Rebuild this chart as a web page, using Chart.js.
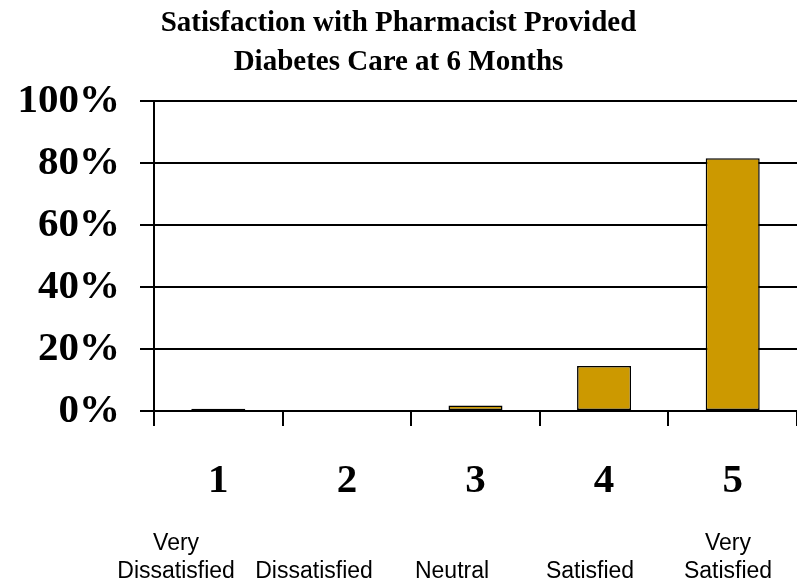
<!DOCTYPE html>
<html>
<head>
<meta charset="utf-8">
<script src="https://cdn.jsdelivr.net/npm/chart.js@4/dist/chart.umd.min.js"></script>
<style>
  html, body { margin: 0; padding: 0; background: #fff; overflow: hidden; }
  #wrap { width: 797px; height: 581px; }
</style>
</head>
<body>
<div id="wrap"><canvas id="c" width="797" height="581"></canvas></div>
<script>
const categories = ["1", "2", "3", "4", "5"];
const subLabels = [["Very", "Dissatisfied"], ["", "Dissatisfied"], ["", "Neutral"], ["", "Satisfied"], ["Very", "Satisfied"]];
const values = [0.7, 0, 1.8, 14.5, 81.5];
const yTicks = [0, 20, 40, 60, 80, 100];
const titleLines = ["Satisfaction with Pharmacist Provided", "Diabetes Care at 6 Months"];

const serif = "'Liberation Serif', 'Times New Roman', serif";
const sans = "'Liberation Sans', Arial, sans-serif";

new Chart(document.getElementById('c'), {
  type: 'bar',
  data: {
    labels: categories,
    datasets: [{
      data: values,
      backgroundColor: '#CC9900',
      borderColor: '#000000',
      borderWidth: 1.5,
      borderSkipped: false,
      categoryPercentage: 1.0,
      barPercentage: 0.42
    }]
  },
  options: {
    responsive: false,
    animation: false,
    devicePixelRatio: 1,
    layout: { padding: 0 },
    plugins: {
      legend: { display: false },
      tooltip: { enabled: false },
      title: {
        display: true,
        text: titleLines,
        color: '#000',
        font: { family: serif, size: 29, weight: 'bold', lineHeight: '39px' },
        padding: { top: 4, bottom: 19 }
      }
    },
    scales: {
      y: {
        min: 0,
        max: 100,
        afterFit: s => { s.width = 154; },
        afterBuildTicks: s => { s.ticks = yTicks.map(v => ({ value: v })); },
        ticks: {
          color: '#000',
          font: { family: serif, size: 41, weight: 'bold' },
          padding: 20,
          callback: v => v + '%'
        },
        grid: { color: '#000', lineWidth: 2, tickLength: 14, drawTicks: true },
        border: { display: true, color: '#000', width: 2 }
      },
      x: {
        weight: 0,
        afterFit: s => { s.height = 100; },
        ticks: {
          color: '#000',
          font: { family: serif, size: 41, weight: 'bold', lineHeight: 1.2 },
          padding: 31,
          maxRotation: 0,
          autoSkip: false
        },
        grid: { offset: true, drawOnChartArea: false, drawTicks: true, tickLength: 15, color: '#000', lineWidth: 2 },
        border: { display: true, color: '#000', width: 2 }
      },
      x2: {
        type: 'linear',
        axis: 'x',
        position: 'bottom',
        weight: 1,
        offset: false,
        min: 0.84,
        max: 5.5,
        afterFit: s => { s.height = 70; },
        afterBuildTicks: s => { s.ticks = subLabels.map((_, i) => ({ value: i + 1 })); },
        ticks: {
          color: '#000',
          font: { family: sans, size: 23, lineHeight: '28px' },
          padding: 19,
          maxRotation: 0,
          autoSkip: false,
          callback: v => subLabels[Math.round(v) - 1] || ''
        },
        grid: { display: false, drawTicks: false, offset: false },
        border: { display: false }
      }
    }
  }
});
</script>
</body>
</html>
